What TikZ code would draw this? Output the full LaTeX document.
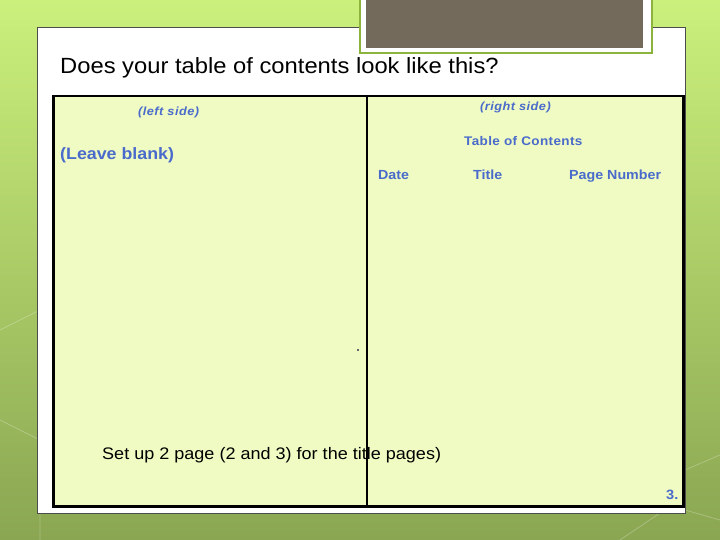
\documentclass[tikz,border=0pt]{standalone}
\usepackage{fontspec}
\setmainfont{Liberation Sans}[FakeStretch=1.08]
\newfontfamily\spacedfont{Liberation Sans}[FakeStretch=1.08,LetterSpace=4]
\newfontfamily\tocfont{Liberation Sans}[FakeStretch=1.08,LetterSpace=3]
\definecolor{bgtop}{HTML}{CBF07C}
\definecolor{bgbot}{HTML}{8AA652}
\definecolor{panelfill}{HTML}{EFFBC2}
\definecolor{tocblue}{HTML}{4A6BCB}
\definecolor{brownbox}{HTML}{736A5C}
\definecolor{framegreen}{HTML}{8CB43C}
\begin{document}
\begin{tikzpicture}[x=1bp,y=-1bp,
  bluelabel/.style={text=tocblue,font=\bfseries,inner sep=0pt,anchor=base west},
  plain/.style={inner sep=0pt,anchor=base west}]
\useasboundingbox (0,0) rectangle (720,540);
\shade[top color=bgtop,bottom color=bgbot] (0,0) rectangle (720,540);
% faint background lines
\begin{scope}[draw=white,opacity=0.25,line width=0.8bp]
\draw (0,330) -- (60,300);
\draw (0,420) -- (40,440) -- (40,540);
\draw (685,470) -- (720,455);
\draw (685,510) -- (720,520);
\draw (620,540) -- (660,513);
\end{scope}
% white panel
\node[draw=black!70,line width=0.6bp,fill=white,inner sep=0pt,minimum width=648bp,minimum height=486bp,anchor=north west] (panel) at (37,27) {};
% brown title box
\node[draw=framegreen,line width=2bp,fill=white,inner sep=0pt,minimum width=292bp,minimum height=56bp,anchor=north west] (frame) at (359,-4) {};
\node[fill=brownbox,inner sep=0pt,minimum width=277bp,minimum height=52bp,anchor=north west] (brown) at (366,-4) {};
% title
\node[plain,font=\fontsize{22bp}{26bp}\selectfont] (title) at (60,74) {Does your table of contents look like this?};
% inner box
\node[draw=black,line width=2.5bp,fill=panelfill,inner sep=0pt,minimum width=630bp,minimum height=410bp,anchor=north west] (box) at (52,95) {};
\coordinate (divtop) at (367,95);
\coordinate (divbot) at (367,505);
\draw[line width=2bp] (divtop) -- (divbot);
% texts
\node[bluelabel,font=\fontsize{11.8bp}{13bp}\spacedfont\bfseries\itshape] (left) at (138,116) {(left side)};
\node[bluelabel,font=\fontsize{11.8bp}{13bp}\spacedfont\bfseries\itshape] (right) at (480,111) {(right side)};
\node[bluelabel,font=\fontsize{12.5bp}{14bp}\tocfont\bfseries] (toc) at (464,146) {Table of Contents};
\node[bluelabel,font=\fontsize{16.5bp}{19bp}\selectfont\bfseries] (blank) at (60,160) {(Leave blank)};
\node[bluelabel,font=\fontsize{13.2bp}{15bp}\selectfont\bfseries] (date) at (378,180) {Date};
\node[bluelabel,font=\fontsize{13.2bp}{15bp}\selectfont\bfseries] (ttl) at (473,180) {Title};
\node[bluelabel,font=\fontsize{13.2bp}{15bp}\selectfont\bfseries] (pn) at (569,180) {Page Number};
\node[fill=black!60,inner sep=0pt,minimum size=1.5bp] (dot) at (358,350) {};
\node[plain,font=\fontsize{16.7bp}{19bp}\selectfont] (setup) at (102,459) {Set up 2 page (2 and 3) for the title pages)};
\node[bluelabel,font=\fontsize{13.5bp}{15bp}\selectfont\bfseries] (num) at (666,499) {3.};
\end{tikzpicture}
\end{document}
